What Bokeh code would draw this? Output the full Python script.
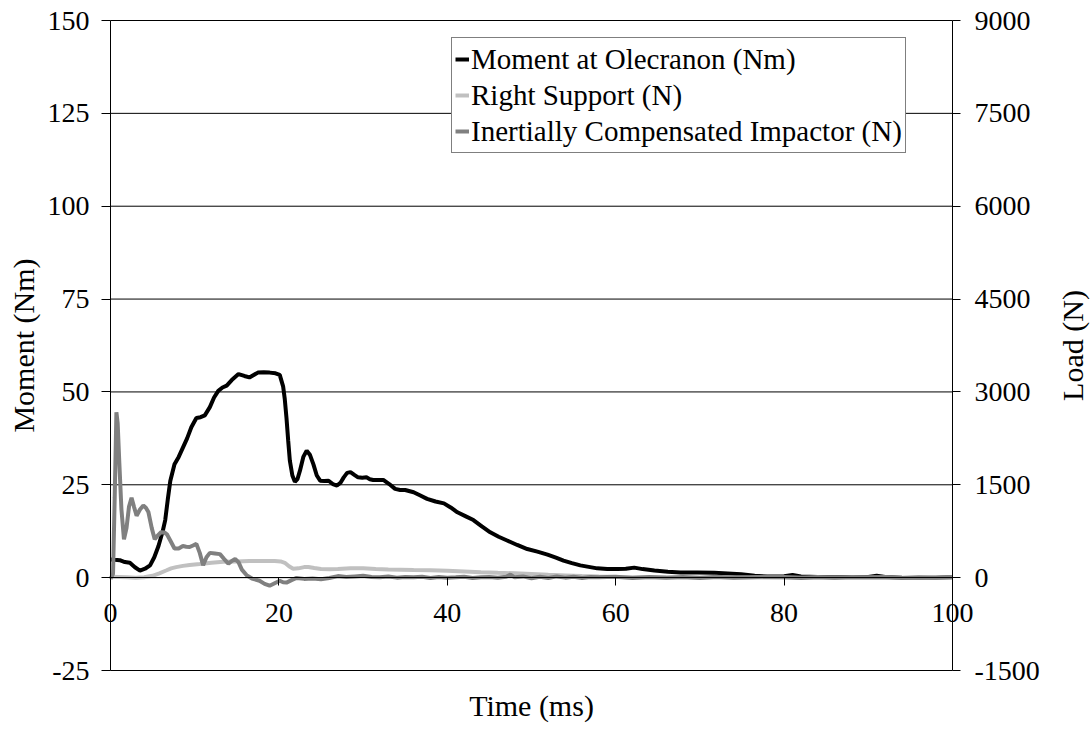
import math
from bokeh.plotting import figure
from bokeh.models import Range1d, LinearAxis, FixedTicker, Legend, LegendItem, Label, CustomJSTickFormatter
from bokeh.embed import file_html
from bokeh.resources import INLINE

# ---------------- data ----------------
t_moment = [0, 0.5, 1.1, 1.7, 2.3, 2.9, 3.5, 4.1, 4.7, 5.2, 5.7, 6.2, 6.5, 6.8, 7.1, 7.6, 8.1, 8.6, 9.1, 9.6,
            10.2, 10.7, 11.2, 11.8, 12.3, 12.8, 13.3, 13.8, 14.4, 15.2, 15.9, 16.5, 17.5, 18.2, 18.9, 19.6,
            20.1, 20.5, 20.7, 20.9, 21.1, 21.3, 21.6, 21.9, 22.2, 22.5, 22.9, 23.3, 23.7, 24.1, 24.5, 24.9,
            25.4, 25.9, 26.4, 26.9, 27.3, 27.7, 28.1, 28.5, 29.0, 29.4, 29.9, 30.4, 30.8, 31.2, 31.8, 32.4,
            33.1, 33.8, 34.4, 35.0, 36.0, 36.8, 37.6, 38.6, 39.6, 40.4, 41.2, 42.2, 43.1, 44.1, 45.1, 46.1,
            47.1, 48.3, 49.5, 50.7, 51.9, 52.9, 53.8, 54.8, 55.8, 56.8, 57.8, 59.0, 60.2, 61.2, 62.2, 63.2,
            64.6, 66.2, 67.7, 69.7, 71.7, 73.3, 74.9, 76.5, 78, 80, 81, 82, 84, 86, 88, 90, 91, 92, 94, 96,
            98, 100]
moment_nm = [4.9, 4.8, 4.7, 4.2, 4.0, 2.8, 1.9, 2.4, 3.3, 5.5, 8.5, 12.5, 15.5, 21, 26, 30.5, 32.5, 35, 37.5, 40.5,
             43, 43.2, 43.7, 45.9, 48.5, 50.3, 51.2, 51.7, 53.2, 54.8, 54.3, 53.9, 55.2, 55.3, 55.2, 55.0,
             54.6, 51.5, 48, 43, 37, 31.5, 27.5, 25.8, 26.5, 28.8, 32.5, 34.2, 33, 30.5, 27.5, 26.1,
             26.0, 26.1, 25.2, 24.8, 25.5, 27.0, 28.2, 28.4, 27.6, 27.0, 26.9, 27.0, 26.5, 26.3, 26.3, 26.3,
             25.2, 23.9, 23.6, 23.6, 23.0, 22.1, 21.2, 20.5, 20.0, 18.9, 17.6, 16.5, 15.5, 13.8, 12.2, 11.0,
             10.0, 8.8, 7.7, 7.0, 6.2, 5.4, 4.6, 3.9, 3.3, 2.9, 2.5, 2.3, 2.3, 2.4, 2.7, 2.3,
             1.9, 1.6, 1.4, 1.4, 1.3, 1.1, 0.9, 0.5, 0.3, 0.4, 0.7, 0.3, 0.2, 0.1, 0.2, 0.2, 0.5, 0.2, 0.0, -0.1,
             0.0, 0.1]

t_support = [0, 1, 2, 3, 4, 5, 5.8, 6.6, 7.2, 7.8, 8.6, 9.4, 10.6, 12, 13.4, 15, 16.5, 18, 19.5, 20.2, 20.7,
             21.2, 21.7, 22.3, 23.0, 23.5, 24.2, 25, 26, 27, 28.5, 30, 31.5, 33, 34.5, 36, 38, 40, 42, 44, 46,
             48, 50, 52, 54, 56, 58, 60, 63, 66, 70, 75, 80, 85, 90, 95, 100]
support_n = [15, 10, 5, 0, 5, 30, 70, 115, 150, 170, 190, 205, 220, 240, 255, 262, 268, 270, 268, 262, 240,
             185, 145, 150, 170, 172, 155, 140, 135, 138, 150, 150, 140, 132, 128, 122, 118, 112, 100, 88, 78,
             70, 58, 45, 35, 25, 18, 12, 8, 5, 3, 2, 0, 0, 0, 0, 0]

t_impactor = [0, 0.3, 0.5, 0.7, 0.85, 1.05, 1.3, 1.6, 1.9, 2.2, 2.5, 2.8, 3.1, 3.5, 3.9, 4.2, 4.5, 4.9, 5.25,
              5.6, 6.0, 6.4, 6.7, 7.1, 7.6, 8.1, 8.6, 9.0, 9.4, 9.8, 10.2, 10.6, 11.0, 11.4, 11.8, 12.4, 13.0,
              13.5, 14.0, 14.4, 14.8, 15.2, 15.6, 16.2, 16.8, 17.7, 18.3, 18.9, 19.5, 20.1, 20.5, 20.9, 21.5,
              22.1, 23, 24, 25, 26, 27, 28, 29, 30, 31, 32, 33, 34, 35, 36, 37, 38, 39, 40, 41, 42, 43, 44, 45,
              46, 47, 47.5, 48, 49, 50, 51, 52, 53, 54, 55, 56, 57, 58, 60, 62, 64, 66, 68, 70, 72, 74, 76,
              78, 80, 82, 84, 86, 88, 90, 92, 94, 96, 98, 100]
impactor_n = [-20, 60, 1300, 2670, 2500, 1850, 1100, 620, 800, 1150, 1290, 1140, 1000, 1100, 1165, 1130, 1060,
              800, 620, 680, 735, 730, 700, 600, 470, 470, 510, 500, 495, 520, 545, 400, 200, 330, 400, 390,
              380, 300, 225, 270, 300, 250, 130, 35, -15, -50, -100, -130, -90, -50, -75, -80, -40,
              -5, -20, -15, -25, -5, 25, 10, 20, 30, 10, 5, 20, 0, 10, 5, 15, -5, 10, 0, 5, 15, -5, 5, 10,
              0, 15, 50, 5, 20, -10, 15, -5, 20, 0, 15, -5, 10, 5, 15, -5, 10, 0, 10, -5, 15, 0, 5,
              15, 10, -5, 10, 0, 10, 5, 10, -5, 5, 0, 10]

x_ticks = [0, 20, 40, 60, 80, 100]
moment_ticks = [-25, 0, 25, 50, 75, 100, 125, 150]
load_ticks = [-1500, 0, 1500, 3000, 4500, 6000, 7500, 9000]
series_names = ["Moment at Olecranon (Nm)", "Right Support (N)", "Inertially Compensated Impactor (N)"]

# ---------------- layout (pixels) ----------------
W, H = 1092, 731
FL, FR, FT, FB = 110, 952, 20, 670          # plot-area box on the canvas
X0, X1 = 0, 100
Y0, Y1 = -25, 150
LOAD_PER_NM = 60.0
sx = (FR - FL) / (X1 - X0)
sy = (FB - FT) / (Y1 - Y0)
x_start, x_end = X0 - FL / sx, X1 + (W - FR) / sx
y_start, y_end = Y0 - (H - FB) / sy, Y1 + FT / sy

FONT = "Liberation Serif"
TICK_SIZE = "28px"
LEGEND_SIZE = "29px"
LABEL_SIZE = "30px"
plain = CustomJSTickFormatter(code="return String(tick);")

p = figure(width=W, height=H, output_backend="svg", toolbar_location=None,
           x_range=Range1d(x_start, x_end), y_range=Range1d(y_start, y_end),
           min_border=0, min_border_left=0, min_border_right=0, min_border_top=0, min_border_bottom=0)
p.extra_y_ranges = {"load": Range1d(y_start * LOAD_PER_NM, y_end * LOAD_PER_NM)}
p.outline_line_color = None
p.background_fill_color = "white"
p.border_fill_color = "white"
p.xgrid.visible = False
p.ygrid.visible = False


def style_axis(ax, tick_out):
    ax.major_tick_out = tick_out
    ax.major_tick_in = 0
    ax.minor_tick_line_color = None
    ax.axis_line_color = "black"
    ax.axis_line_width = 1
    ax.major_tick_line_color = "black"
    ax.major_label_text_font = FONT
    ax.major_label_text_font_size = TICK_SIZE
    ax.major_label_text_color = "black"
    ax.formatter = plain


# x axis crossing at y = 0
xa = p.xaxis[0]
xa.fixed_location = 0
xa.bounds = (X0, X1)
xa.ticker = FixedTicker(ticks=x_ticks)
style_axis(xa, 8)
xa.major_label_standoff = 18

# left axis at x = 0
ya = p.yaxis[0]
ya.fixed_location = X0
ya.bounds = (Y0, Y1)
ya.ticker = FixedTicker(ticks=moment_ticks)
style_axis(ya, 9)
ya.major_label_standoff = 12

# right axis at x = 100
yr = LinearAxis(y_range_name="load", ticker=FixedTicker(ticks=load_ticks))
yr.fixed_location = X1
yr.bounds = (Y0 * LOAD_PER_NM, Y1 * LOAD_PER_NM)
style_axis(yr, 8)
yr.major_label_standoff = 14
p.add_layout(yr, "right")

# horizontal gridlines between the two vertical axes
p.segment(x0=[X0] * len(moment_ticks), x1=[X1] * len(moment_ticks), y0=moment_ticks, y1=moment_ticks,
          line_color="black", line_width=1)

# axis titles
ymid = (Y0 + Y1) / 2
p.add_layout(Label(x=X0 - 87 / sx, y=ymid, text="Moment (Nm)", angle=math.pi / 2,
                   text_align="center", text_baseline="middle",
                   text_font=FONT, text_font_size=LABEL_SIZE, text_color="black"))
p.add_layout(Label(x=X1 + 120 / sx, y=ymid, text="Load (N)", angle=math.pi / 2,
                   text_align="center", text_baseline="middle",
                   text_font=FONT, text_font_size=LABEL_SIZE, text_color="black"))
p.add_layout(Label(x=(X0 + X1) / 2, y=Y0 - 35 / sy, text="Time (ms)",
                   text_align="center", text_baseline="middle",
                   text_font=FONT, text_font_size=LABEL_SIZE, text_color="black"))

r1 = p.line(t_moment, moment_nm, line_color="#000000", line_width=4)
r2 = p.line(t_support, support_n, y_range_name="load", line_color="#c0c0c0", line_width=4)
r3 = p.line(t_impactor, impactor_n, y_range_name="load", line_color="#808080", line_width=4)

legend = Legend(items=[LegendItem(label=series_names[0], renderers=[r1]),
                       LegendItem(label=series_names[1], renderers=[r2]),
                       LegendItem(label=series_names[2], renderers=[r3])],
                location=(451, H - 156 + 3))
legend.label_text_font = FONT
legend.label_text_font_size = LEGEND_SIZE
legend.label_text_color = "black"
legend.border_line_color = "black"
legend.border_line_width = 1
legend.background_fill_color = "white"
legend.background_fill_alpha = 1
legend.padding = 3
legend.spacing = 0
legend.margin = 0
legend.glyph_width = 14
legend.glyph_height = 36
legend.label_height = 36
legend.label_standoff = 2
p.add_layout(legend)

open("out.html", "w").write(file_html(p, INLINE))
